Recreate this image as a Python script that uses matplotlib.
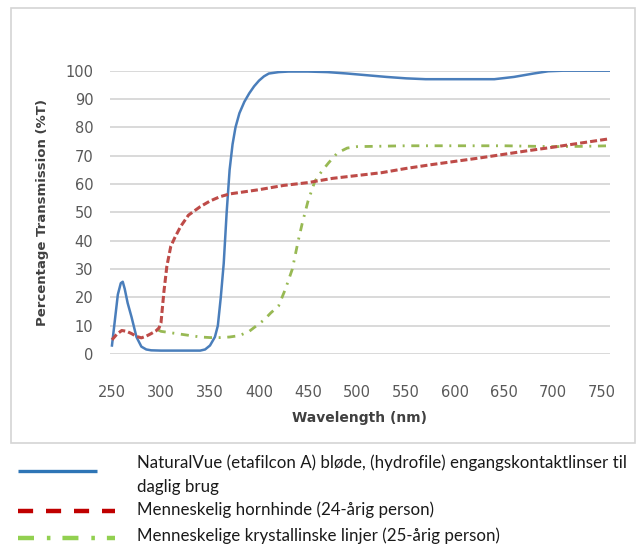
import matplotlib
matplotlib.use('Agg')
import matplotlib.pyplot as plt
from matplotlib.lines import Line2D
from matplotlib.patches import Rectangle

# NaturalVue contact lens
lens_nm = [250, 253, 256, 259, 261, 263, 266, 270, 275, 280, 285, 290, 300, 320, 340, 345,
           350, 355, 358, 361, 364, 367, 370, 373, 376, 380, 385, 390, 395, 400, 405, 410,
           420, 430, 450, 470, 490, 510, 530, 550, 570, 600, 620, 640, 660, 680, 695, 710,
           730, 758]
lens_t = [3, 12, 21, 25, 25.5, 23, 18, 13, 6, 2.6, 1.6, 1.3, 1.2, 1.2, 1.2, 1.6,
          3, 6, 10, 20, 32, 50, 65, 74, 80, 85, 89, 92, 94.5, 96.5, 98, 99,
          99.5, 99.7, 99.7, 99.5, 99, 98.4, 97.8, 97.3, 97, 97, 97, 97, 97.8, 99, 99.8, 100,
          100, 100]

# human cornea (24 yrs)
cornea_nm = [250, 255, 260, 265, 270, 275, 280, 285, 290, 295, 298, 300, 303, 306, 310, 314,
             320, 328, 340, 350, 360, 370, 380, 400, 425, 450, 475, 500, 525, 550, 575, 600,
             625, 650, 675, 700, 725, 758]
cornea_t = [5, 7, 8.3, 8, 7.2, 6.2, 5.7, 6.3, 7.2, 8.2, 9.2, 11, 22, 31, 38, 41,
            45, 49, 52, 54, 55.5, 56.5, 57, 58, 59.5, 60.5, 62, 63, 64, 65.5, 66.8, 68,
            69.2, 70.5, 71.8, 73, 74.3, 76]

# human crystalline lens (25 yrs)
crystal_nm = [297, 300, 310, 320, 330, 340, 350, 360, 370, 380, 390, 396, 405, 412, 420, 427,
              434, 440, 444, 450, 457, 464, 471, 480, 490, 500, 550, 600, 650, 700, 730, 758]
crystal_t = [8.5, 8, 7.5, 7, 6.5, 6, 5.8, 5.8, 6, 6.5, 8, 9.6, 12, 14.5, 17, 23,
             30, 40, 46, 54, 61, 64.5, 67.5, 71, 72.7, 73.2, 73.5, 73.5, 73.5, 73.2, 73.3, 73.5]

legend_labels = ['NaturalVue (etafilcon A) bløde, (hydrofile) engangskontaktlinser til',
                 'daglig brug',
                 'Menneskelig hornhinde (24-årig person)',
                 'Menneskelige krystallinske linjer (25-årig person)']

W, H = 640, 546
fig = plt.figure(figsize=(W / 100, H / 100), dpi=100)

def fx(px):
    return px / W

def fy(py):
    return 1 - py / H

# grey frame around the chart
fig.patches.append(Rectangle((fx(11), fy(443)), (635 - 11) / W, (443 - 8) / H,
                             transform=fig.transFigure, fill=False,
                             edgecolor='#d4d4d4', linewidth=1.2))

ax = fig.add_axes([fx(110), fy(354), (610 - 110) / W, (354 - 70.7) / H])
ax.plot(lens_nm, lens_t, color='#4A7EBB', lw=1.8, zorder=3)
ax.plot(cornea_nm, cornea_t, color='#BE4B48', lw=2.2, dashes=(2.3, 1.0), zorder=4)
ax.plot(crystal_nm, crystal_t, color='#98B954', lw=2.0,
        dashes=(2.9, 2.4, 0.7, 2.4), zorder=2)

ax.set_xlim(248, 758)
ax.set_ylim(0, 100)
ax.set_xticks(range(250, 751, 50))
ax.set_yticks(range(0, 101, 10))
for s in ax.spines.values():
    s.set_visible(False)
ax.tick_params(length=0, labelsize=10.5, labelcolor='#595959')
ax.tick_params(axis='y', pad=12)
ax.tick_params(axis='x', pad=22)
ax.yaxis.grid(True, color='#d9d9d9', lw=1.4)
ax.set_axisbelow(True)

fig.text(fx(43), fy(213), 'Percentage Transmission (%T)', rotation=90, ha='center',
         va='center', fontsize=9.5, fontweight='bold', color='#404040')
fig.text(fx(359), fy(418), 'Wavelength (nm)', ha='center', va='center',
         fontsize=10, fontweight='bold', color='#404040')

# legend under the chart
fig.lines.append(Line2D([fx(18), fx(97)], [fy(471), fy(471)], transform=fig.transFigure,
                        color='#2E75B6', lw=2.4, solid_capstyle='butt'))
fig.lines.append(Line2D([fx(18), fx(115)], [fy(511), fy(511)], transform=fig.transFigure,
                        color='#C00000', lw=3.2, dashes=(3.4, 2.9), dash_capstyle='butt'))
fig.lines.append(Line2D([fx(18), fx(115)], [fy(538), fy(538)], transform=fig.transFigure,
                        color='#92D050', lw=3.2, dashes=(3.6, 2.9, 0.8, 2.7),
                        dash_capstyle='butt'))
for lab, py in zip(legend_labels, [463, 487, 510, 536]):
    fig.text(fx(137), fy(py), lab, ha='left', va='center', fontsize=12.2,
             family='Lato', color='#1a1a1a')

fig.savefig('out.png', dpi=100)
